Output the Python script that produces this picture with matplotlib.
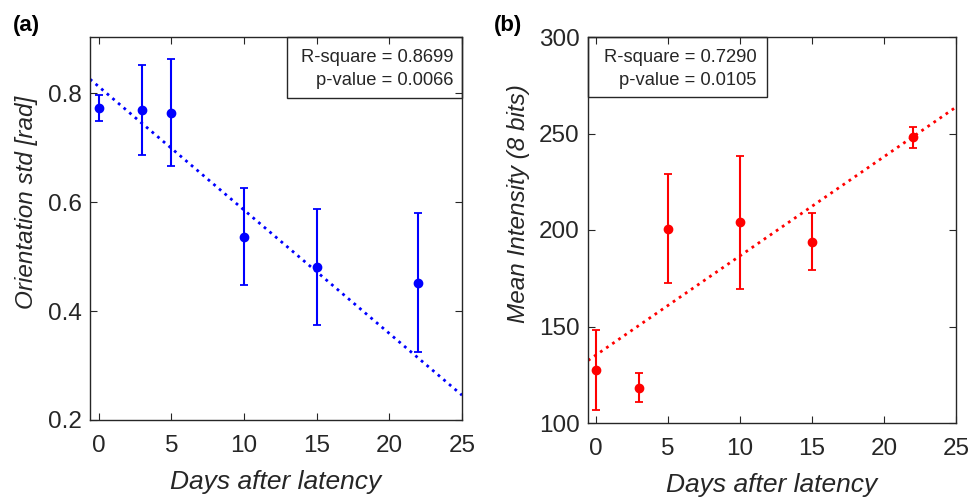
import matplotlib
matplotlib.use("Agg")
import matplotlib.pyplot as plt
import numpy as np
from matplotlib.patches import Rectangle

plt.rcParams['font.family'] = ['Liberation Sans', 'DejaVu Sans']

# ---- data ----
days = [0, 3, 5, 10, 15, 22]

orient_mean = [0.773, 0.769, 0.764, 0.536, 0.481, 0.452]
orient_err = [0.024, 0.083, 0.098, 0.089, 0.107, 0.128]
orient_fit = (-0.02266, 0.812)  # slope, intercept
orient_stats = ("R-square = 0.8699", "p-value = 0.0066")

intens_mean = [127.6, 118.3, 200.7, 204.0, 194.0, 248.0]
intens_err = [20.8, 7.4, 28.4, 34.6, 14.9, 5.4]
intens_fit = (5.139, 135.2)
intens_stats = ("R-square = 0.7290", "p-value = 0.0105")

xticks = [0, 5, 10, 15, 20, 25]
yticks_a = [0.2, 0.4, 0.6, 0.8]
yticks_b = [100, 150, 200, 250, 300]

TXT = '#262626'
W, H = 971, 500
fig = plt.figure(figsize=(W / 100, H / 100), dpi=100)

def px_axes(l, t, r, b):
    return fig.add_axes([l / W, (H - b) / H, (r - l) / W, (b - t) / H])

ax1 = px_axes(90, 37, 462, 420)
ax2 = px_axes(588, 37, 956, 423)

def style(ax):
    for s in ax.spines.values():
        s.set_color(TXT)
        s.set_linewidth(1.0)
    ax.tick_params(direction='in', top=True, right=True, length=5, width=0.8,
                   color=TXT, labelcolor=TXT, labelsize=17.5)
    ax.tick_params(axis='x', pad=11)
    ax.tick_params(axis='y', pad=6)

# panel a
ax = ax1
ax.errorbar(days, orient_mean, yerr=orient_err, fmt='o', color='#0000ff',
            ms=6, elinewidth=1.5, capsize=3.2, capthick=1.3)
xl = np.array([-0.6, 25])
ax.plot(xl, orient_fit[0] * xl + orient_fit[1], ':', color='#0000ff', lw=2.0)
ax.set_xlim(-0.6, 25)
ax.set_ylim(0.2, 0.903)
ax.set_xticks(xticks)
ax.set_yticks(yticks_a)
ax.set_yticklabels([f"{v:.1f}" for v in yticks_a])
style(ax)
ax.set_ylabel('Orientation std [rad]', fontsize=17.5, style='italic', color=TXT)
ax.yaxis.set_label_coords(-0.171, 0.569)
ax.yaxis.label.set_va('center')
ax.set_xlabel('Days after latency', fontsize=19, style='italic', color=TXT, labelpad=9)
ax.add_patch(Rectangle((0.53, 0.8415), 0.47, 0.1585, transform=ax.transAxes,
                       fill=False, edgecolor=TXT, lw=1.0, clip_on=False, zorder=5))
ax.text(0.976, 0.917, "\n".join(orient_stats), transform=ax.transAxes, ha='right',
        va='center', fontsize=13.2, color=TXT, linespacing=1.45)
fig.text(13 / W, 1 - 25 / H, '(a)', fontsize=16, fontweight='bold', color='black',
         ha='left', va='center')

# panel b
ax = ax2
ax.errorbar(days, intens_mean, yerr=intens_err, fmt='o', color='#ff0000',
            ms=6, elinewidth=1.5, capsize=3.2, capthick=1.3)
xl = np.array([-0.55, 25])
ax.plot(xl, intens_fit[0] * xl + intens_fit[1], ':', color='#ff0000', lw=2.0)
ax.set_xlim(-0.55, 25)
ax.set_ylim(100, 300)
ax.set_xticks(xticks)
ax.set_yticks(yticks_b)
style(ax)
ax.set_ylabel('Mean Intensity (8 bits)', fontsize=17.5, style='italic', color=TXT)
ax.yaxis.set_label_coords(-0.1875, 0.569)
ax.yaxis.label.set_va('center')
ax.set_xlabel('Days after latency', fontsize=19, style='italic', color=TXT, labelpad=9)
ax.add_patch(Rectangle((0.0, 0.845), 0.486, 0.155, transform=ax.transAxes,
                       fill=False, edgecolor=TXT, lw=1.0, clip_on=False, zorder=5))
ax.text(0.458, 0.917, "\n".join(intens_stats), transform=ax.transAxes, ha='right',
        va='center', fontsize=13.2, color=TXT, linespacing=1.45)
fig.text(494 / W, 1 - 25 / H, '(b)', fontsize=16, fontweight='bold', color='black',
         ha='left', va='center')

fig.savefig('out.png', dpi=100)
